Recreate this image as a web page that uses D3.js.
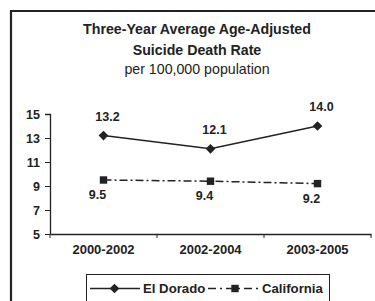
<!DOCTYPE html>
<html>
<head>
<meta charset="utf-8">
<script src="https://cdn.jsdelivr.net/npm/d3@7"></script>
<style>
  body { margin: 0; background: #fff; }
  svg { display: block; font-family: "Liberation Sans", Arial, sans-serif; }
</style>
</head>
<body>
<div id="chart"></div>
<script>
'use strict';
var categories = ['2000-2002', '2002-2004', '2003-2005'];
var elDorado = [13.2, 12.1, 14.0];
var california = [9.5, 9.4, 9.2];
var yTicks = [5, 7, 9, 11, 13, 15];
var titleLines = ['Three-Year Average Age-Adjusted', 'Suicide Death Rate', 'per 100,000 population'];

var width = 375, height = 301;
var ink = '#222';

var svg = d3.select('#chart').append('svg')
    .attr('width', width)
    .attr('height', height);

// outer frame (bottom and right run past the window)
svg.append('path')
    .attr('d', 'M11,' + (height + 5) + 'V11H' + (width + 5))
    .attr('fill', 'none')
    .attr('stroke', ink)
    .attr('stroke-width', 2.2);

var titleY = [33.5, 55, 74];
svg.selectAll('.title').data(titleLines).enter().append('text')
    .attr('x', 197)
    .attr('y', function(d, i) { return titleY[i]; })
    .attr('text-anchor', 'middle')
    .attr('font-size', 14.2)
    .attr('font-weight', function(d, i) { return i < 2 ? 'bold' : 'normal'; })
    .attr('fill', ink)
    .text(function(d) { return d; });

var x = d3.scaleBand().domain(categories).range([50, 371]);
var y = d3.scaleLinear().domain([5, 15]).range([234, 114]);
var cx = function(d, i) { return x(categories[i]) + x.bandwidth() / 2; };

var yAxis = svg.append('g')
    .attr('transform', 'translate(50,0)')
    .call(d3.axisLeft(y).tickValues(yTicks).tickSize(5).tickPadding(5));
var xAxis = svg.append('g')
    .attr('transform', 'translate(0,234)')
    .call(d3.axisBottom(x).tickSize(0).tickPadding(11));

// category separators on the x axis
var seps = [x.range()[0]].concat(categories.map(function(d) { return x(d) + x.bandwidth(); }));
xAxis.selectAll('.sep').data(seps).enter().append('line')
    .attr('x1', function(d) { return d; })
    .attr('x2', function(d) { return d; })
    .attr('y1', 0).attr('y2', 4)
    .attr('stroke', ink);

[yAxis, xAxis].forEach(function(g) {
  g.select('.domain').attr('stroke', ink).attr('stroke-width', 1.3);
  g.selectAll('.tick line').attr('stroke', ink);
  g.selectAll('text')
      .attr('font-family', '"Liberation Sans", Arial, sans-serif')
      .attr('font-weight', 'bold')
      .attr('fill', ink);
});
yAxis.selectAll('text').attr('font-size', 12.5);
xAxis.selectAll('text').attr('font-size', 13);
yAxis.select('.domain').attr('d', 'M-5,114.5H0.5V234.5');

var line = d3.line()
    .x(cx)
    .y(function(d) { return y(d); });

svg.append('path').datum(elDorado)
    .attr('d', line)
    .attr('fill', 'none')
    .attr('stroke', ink)
    .attr('stroke-width', 1.5);

svg.append('path').datum(california)
    .attr('d', line)
    .attr('fill', 'none')
    .attr('stroke', ink)
    .attr('stroke-width', 1.5)
    .attr('stroke-dasharray', '8,3,2,3');

var diamond = d3.symbol().type(d3.symbolDiamond2).size(60);
var square = d3.symbol().type(d3.symbolSquare).size(55);

svg.selectAll('.ed').data(elDorado).enter().append('path')
    .attr('d', diamond)
    .attr('transform', function(d, i) { return 'translate(' + cx(d, i) + ',' + y(d) + ')'; })
    .attr('fill', ink);

svg.selectAll('.ca').data(california).enter().append('path')
    .attr('d', square)
    .attr('transform', function(d, i) { return 'translate(' + cx(d, i) + ',' + y(d) + ')'; })
    .attr('fill', ink);

svg.selectAll('.edl').data(elDorado).enter().append('text')
    .attr('x', function(d, i) { return cx(d, i) + 4; })
    .attr('y', function(d) { return y(d) - 15; })
    .attr('text-anchor', 'middle')
    .attr('font-size', 12.5)
    .attr('font-weight', 'bold')
    .attr('fill', ink)
    .text(function(d) { return d.toFixed(1); });

svg.selectAll('.cal').data(california).enter().append('text')
    .attr('x', function(d, i) { return cx(d, i) - 6; })
    .attr('y', function(d) { return y(d) + 19; })
    .attr('text-anchor', 'middle')
    .attr('font-size', 12.5)
    .attr('font-weight', 'bold')
    .attr('fill', ink)
    .text(function(d) { return d.toFixed(1); });

// legend
var legend = svg.append('g');
legend.append('rect')
    .attr('x', 86.5).attr('y', 274.5)
    .attr('width', 243).attr('height', 40)
    .attr('fill', '#fff')
    .attr('stroke', ink);

var legendItems = [
  {name: 'El Dorado', x0: 90, x1: 140, tx: 143, sym: diamond, dash: null},
  {name: 'California', x0: 208, x1: 259, tx: 262, sym: square, dash: '8,4,2,4'}
];
legendItems.forEach(function(it) {
  legend.append('line')
      .attr('x1', it.x0).attr('x2', it.x1)
      .attr('y1', 288.5).attr('y2', 288.5)
      .attr('stroke', ink)
      .attr('stroke-width', 1.5)
      .attr('stroke-dasharray', it.dash);
  legend.append('path')
      .attr('d', it.sym)
      .attr('transform', 'translate(' + ((it.x0 + it.x1) / 2 + (it.dash ? 1.5 : -0.5)) + ',288.5)')
      .attr('fill', ink);
  legend.append('text')
      .attr('x', it.tx).attr('y', 293)
      .attr('font-size', 13.2)
      .attr('font-weight', 'bold')
      .attr('fill', ink)
      .text(it.name);
});
</script>
</body>
</html>
